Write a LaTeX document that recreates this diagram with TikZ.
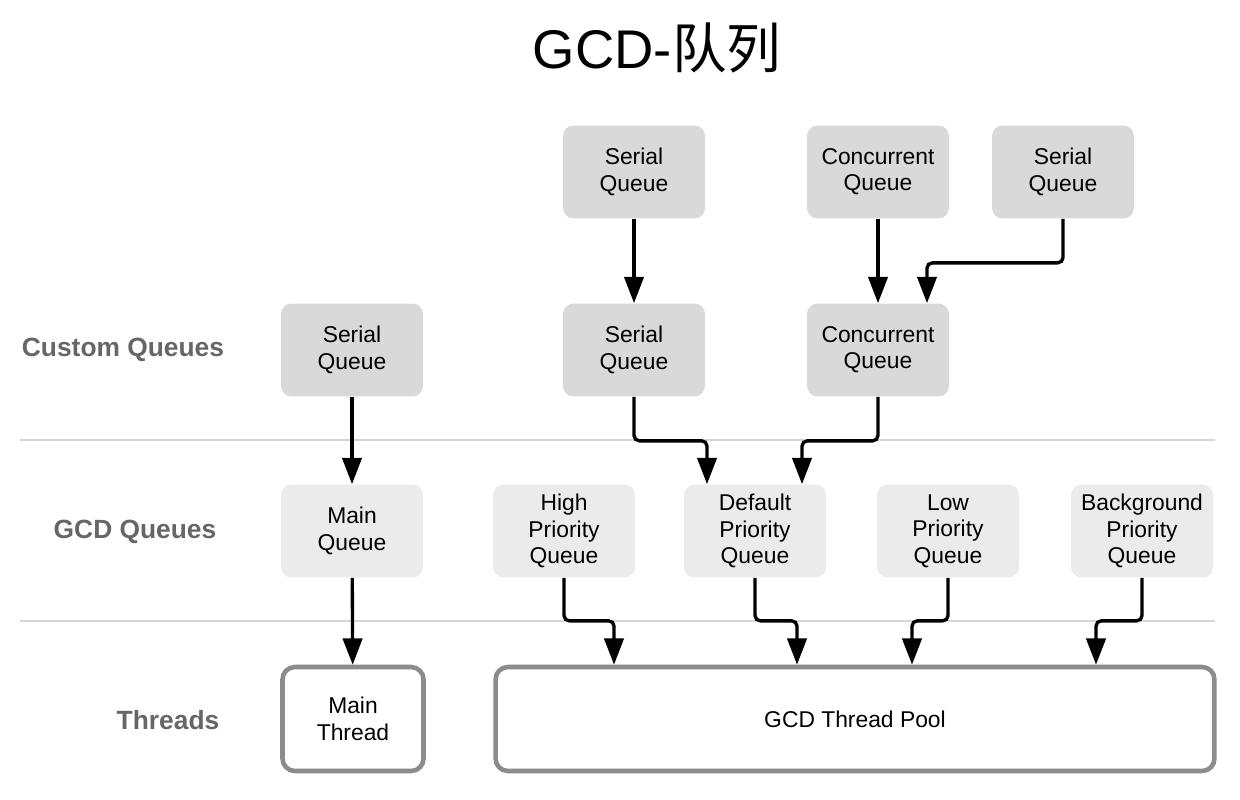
\documentclass[tikz,border=0pt]{standalone}
\usepackage{fontspec}
\setmainfont{Liberation Sans}
\newfontfamily\cjk{Noto Sans CJK SC}
\usetikzlibrary{arrows.meta}
\usetikzlibrary{calc}

\definecolor{cqfill}{HTML}{D9D9D9}
\definecolor{gqfill}{HTML}{EBEBEB}
\definecolor{rimgray}{HTML}{8C8C8C}
\definecolor{rulegray}{HTML}{D6D6D6}
\definecolor{labgray}{HTML}{666666}

\tikzset{
  cq/.style={rounded corners=6pt, fill=cqfill, minimum width=2.84cm, minimum height=1.86cm, align=center, font=\fontsize{13}{15}\selectfont},
  gq/.style={cq, fill=gqfill},
  th/.style={draw=rimgray, line width=2.6pt, rounded corners=7pt, fill=white, minimum height=2.08cm, align=center, font=\fontsize{13}{15}\selectfont},
  rowlab/.style={text=labgray, font=\fontsize{15}{18}\selectfont\bfseries},
  arr/.style={-{Triangle[length=15pt,width=11pt]}, line width=1.9pt, rounded corners=3pt},
}

\begin{document}
\begin{tikzpicture}[x=0.02cm, y=-0.02cm]
\useasboundingbox (0,0) rectangle (1240,800);

\node (title) at (657,48) {\fontsize{31}{37}\selectfont GCD-{\cjk 队列}};

% rows
\draw[rulegray, line width=1pt] (20,440) -- (1215,440);
\draw[rulegray, line width=1pt] (20,621) -- (1215,621);
\node [rowlab] (l1) at (123,350) {Custom Queues};
\node [rowlab] (l2) at (135,532) {GCD Queues};
\node [rowlab] (l3) at (168,720) {Threads};

% custom queues
\node [cq] (s1) at (634,172) {Serial\\Queue};
\node [cq] (k1) at (878,172) {Concurrent\\Queue};
\node [cq] (s2) at (1063,172) {Serial\\Queue};
\node [cq] (s3) at (352,350) {Serial\\Queue};
\node [cq] (s4) at (634,350) {Serial\\Queue};
\node [cq] (k2) at (878,350) {Concurrent\\Queue};

% gcd queues
\node [gq] (mq) at (352,531) {Main\\Queue};
\node [gq] (hq) at (564,531) {High\\Priority\\Queue};
\node [gq] (dq) at (755,531) {Default\\Priority\\Queue};
\node [gq] (lq) at (948,531) {Low\\Priority\\Queue};
\node [gq] (bq) at (1142,531) {Background\\Priority\\Queue};

% threads
\node [th, minimum width=2.82cm] (mt) at (353,719) {Main\\Thread};
\node [th, minimum width=14.38cm] (pool) at (855,719) {GCD Thread Pool};

\draw[arr] (s1) -- (s4);
\draw[arr] (k1) -- (k2);
\draw[arr] (s2.south) -- ++(0,44) -| ($(k2.north)+(49,0)$);
\draw[arr] (s3) -- (mq);
\draw[arr] (s4.south) -- ++(0,44) -| ($(dq.north)+(-48,0)$);
\draw[arr] (k2.south) -- ++(0,44) -| ($(dq.north)+(47,0)$);

\draw[arr] (mq) -- (mt);
\draw[arr] (hq.south) -- ++(0,43) -| ($(pool.north)+(-241,0)$);
\draw[arr] (dq.south) -- ++(0,43) -| ($(pool.north)+(-58,0)$);
\draw[arr] (lq.south) -- ++(0,43) -| ($(pool.north)+(57,0)$);
\draw[arr] (bq.south) -- ++(0,43) -| ($(pool.north)+(241,0)$);
\end{tikzpicture}
\end{document}
